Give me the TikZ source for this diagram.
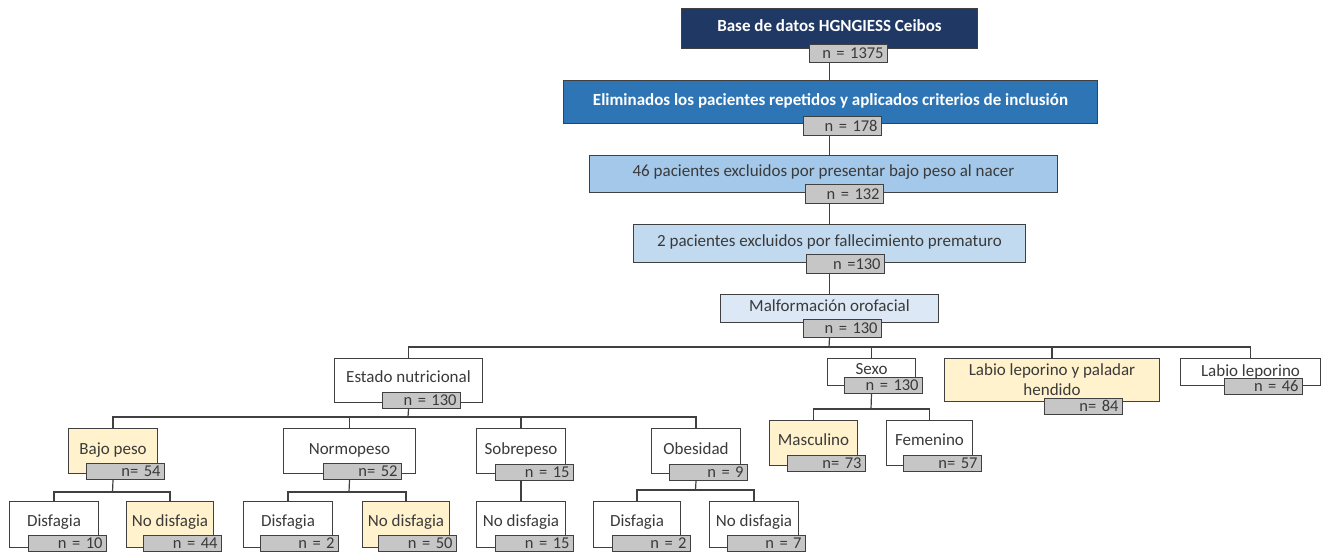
\documentclass[tikz,border=0pt]{standalone}
\usepackage{fontspec}
\setmainfont{Carlito}
\definecolor{navy}{HTML}{1F3864}
\definecolor{midblue}{HTML}{2E75B6}
\definecolor{skyblue}{HTML}{A4C8EA}
\definecolor{paleblue}{HTML}{C2DAF0}
\definecolor{iceblue}{HTML}{DCE8F6}
\definecolor{paleyellow}{HTML}{FFF2CC}
\definecolor{ngray}{HTML}{C6C6C6}
\definecolor{linegray}{HTML}{404040}
\definecolor{txtgray}{HTML}{3A3A3A}
\begin{document}
\begin{tikzpicture}[x=1pt,y=-1pt,
    frame/.style={draw=linegray, line width=1pt, fill=white, rectangle, anchor=north west,
      inner sep=2pt, text=txtgray, font=\fontsize{17}{20}\selectfont},
    box/.style={frame, text height=10pt, text depth=#1},
    box/.default=5pt,
    nbox/.style={draw=linegray, line width=1.2pt, fill=ngray, anchor=north west,
      minimum height=#1, inner xsep=4pt, inner ysep=0pt, text width=70pt, align=right,
      text=txtgray, font=\fontsize{16.5}{18}\selectfont, text height=11pt, text depth=1pt},
    nbox/.default=16pt,
    link/.style={draw=linegray, line width=1.2pt}]
  \useasboundingbox (0,0) rectangle (1331,552);

  \node[box, fill=navy, text=white, font=\fontsize{17}{20}\selectfont\bfseries,
    minimum width=296pt, minimum height=40pt] (base) at (681,8) {Base de datos HGNGIESS Ceibos};
  \node[nbox=18pt] (n1375) at (809,44) {n = 1375};
  \node[box=4pt, fill=midblue, text=white, font=\fontsize{17}{20}\selectfont\bfseries,
    minimum width=534pt, minimum height=43pt] (elim) at (563,80)
    {Eliminados los pacientes repetidos y aplicados criterios de inclusión};
  \node[nbox=19pt] (n178) at (803,116) {n = 178};
  \node[box=6pt, fill=skyblue, minimum width=468pt, minimum height=37pt] (excla) at (589,155)
    {46 pacientes excluidos por presentar bajo peso al nacer};
  \node[nbox=19pt] (n132) at (805,184) {n = 132};
  \node[box=5pt, fill=paleblue, minimum width=392pt, minimum height=38pt] (exclb) at (633,224)
    {2 pacientes excluidos por fallecimiento prematuro};
  \node[nbox=19pt] (n130a) at (806,254) {n =130};
  \node[box=5pt, fill=iceblue, minimum width=218pt, minimum height=28pt] (malf) at (720,294)
    {Malformación orofacial};
  \node[nbox=18pt] (n130b) at (803,319) {n = 130};

  \node[box=7pt, minimum width=148pt, minimum height=44pt] (estado) at (334,358) {Estado nutricional};
  \node[nbox] (n130c) at (382,392) {n = 130};
  \node[box=6pt, minimum width=88pt, minimum height=27pt] (sexo) at (827,358) {Sexo};
  \node[nbox] (n130d) at (844,377) {n = 130};
  \node[frame, fill=paleyellow, align=center, font=\fontsize{17}{20}\selectfont,
    minimum width=215pt, minimum height=43pt, inner ysep=0pt] (labpal) at (944,358)
    {Labio leporino y paladar\\hendido};
  \node[nbox] (n84) at (1044,398) {n= 84};
  \node[box=2pt, minimum width=140pt, minimum height=27pt] (labio) at (1180,358) {Labio leporino};
  \node[nbox] (n46) at (1224,378) {n = 46};

  \node[box=4pt, fill=paleyellow, minimum width=89pt, minimum height=45pt] (bajo) at (68,428) {Bajo peso};
  \node[nbox] (n54) at (86,463) {n= 54};
  \node[box=4pt, minimum width=132pt, minimum height=45pt] (normo) at (283,428) {Normopeso};
  \node[nbox] (n52) at (323,463) {n= 52};
  \node[box=4pt, minimum width=89pt, minimum height=45pt] (sobre) at (476,428) {Sobrepeso};
  \node[nbox] (n15a) at (495,464) {n = 15};
  \node[box=4pt, minimum width=89pt, minimum height=45pt] (obes) at (651,428) {Obesidad};
  \node[nbox] (n9) at (669,464) {n = 9};
  \node[box=6pt, fill=paleyellow, minimum width=88pt, minimum height=45pt] (masc) at (769,420) {Masculino};
  \node[nbox] (n73) at (787,455) {n= 73};
  \node[box=6pt, minimum width=86pt, minimum height=45pt] (feme) at (886,420) {Femenino};
  \node[nbox] (n57) at (903,455) {n= 57};

  \node[box=7pt, minimum width=89pt, minimum height=46pt] (dis1) at (9,501) {Disfagia};
  \node[nbox] (n10) at (28,535) {n = 10};
  \node[box=7pt, fill=paleyellow, minimum width=87pt, minimum height=46pt] (nodis1) at (126,501) {No disfagia};
  \node[nbox] (n44) at (143,535) {n = 44};
  \node[box=7pt, minimum width=89pt, minimum height=46pt] (dis2) at (243,501) {Disfagia};
  \node[nbox] (n2a) at (260,535) {n = 2};
  \node[box=7pt, fill=paleyellow, minimum width=87pt, minimum height=46pt] (nodis2) at (362,501) {No disfagia};
  \node[nbox] (n50) at (378,535) {n = 50};
  \node[box=7pt, minimum width=89pt, minimum height=46pt] (nodis3) at (476,501) {No disfagia};
  \node[nbox] (n15b) at (495,535) {n = 15};
  \node[box=7pt, minimum width=87pt, minimum height=46pt] (dis4) at (593,501) {Disfagia};
  \node[nbox] (n2b) at (612,535) {n = 2};
  \node[box=7pt, minimum width=89pt, minimum height=46pt] (nodis4) at (709,501) {No disfagia};
  \node[nbox] (n7) at (727,535) {n = 7};

  \coordinate (bus1) at (829,347);
  \coordinate (bus2) at (408,417);
  \coordinate (bus3) at (112.5,492);
  \coordinate (bus4) at (349,492);
  \coordinate (bus5) at (695.5,490);
  \coordinate (bus6) at (871,409);

  \draw[link] (n1375.south -| base.south) -- (elim.north -| base.south);
  \draw[link] (n178.south -| base.south) -- (excla.north -| base.south);
  \draw[link] (n132.south -| base.south) -- (exclb.north -| base.south);
  \draw[link] (n130a.south -| base.south) -- (malf.north -| base.south);
  \draw[link] (n130b.south -| base.south) -- (bus1);
  \draw[link] (estado.north) |- (bus1);
  \draw[link] (sexo.north) |- (bus1);
  \draw[link] (labpal.north) |- (bus1);
  \draw[link] (labio.north) |- (bus1);
  \draw[link] (n130c.south -| estado.south) -- (bus2);
  \draw[link] (bajo.north) |- (bus2);
  \draw[link] (normo.north) |- (bus2);
  \draw[link] (sobre.north) |- (bus2);
  \draw[link] (obes.north) |- (bus2);
  \draw[link] (n54.south -| bajo.south) -- (bus3);
  \draw[link] (dis1.north) |- (bus3);
  \draw[link] (nodis1.north) |- (bus3);
  \draw[link] (n52.south -| normo.south) -- (bus4);
  \draw[link] (dis2.north) |- (bus4);
  \draw[link] (nodis2.north) |- (bus4);
  \draw[link] (n15a.south -| sobre.south) -- (nodis3.north);
  \draw[link] (n9.south -| obes.south) -- (bus5);
  \draw[link] (dis4.north) |- (bus5);
  \draw[link] (nodis4.north) |- (bus5);
  \draw[link] (n130d.south -| sexo.south) -- (bus6);
  \draw[link] (masc.north) |- (bus6);
  \draw[link] (feme.north) |- (bus6);
\end{tikzpicture}
\end{document}
